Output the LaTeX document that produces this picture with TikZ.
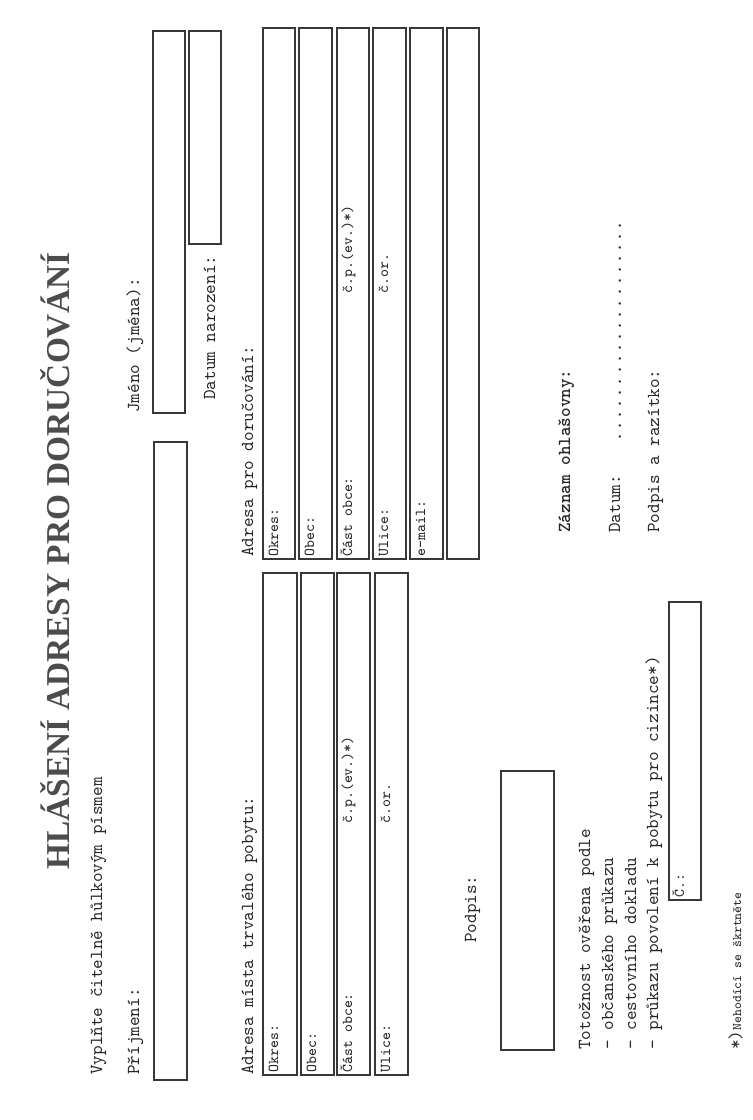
\documentclass[tikz,border=0pt]{standalone}
\usepackage{fontspec}
\setmainfont{Liberation Serif}
\usetikzlibrary{calc}
\usetikzlibrary{fit}

\begin{document}
\begin{tikzpicture}[x=0.02cm, y=-0.02cm,
  field/.style={draw=black!78, line width=0.9pt, inner sep=0pt},
  txt/.style={rotate=90, anchor=base west, inner sep=0pt, text=black!85, font=\ttfamily\fontsize{10.4}{12}\selectfont},
  lbl/.style={rotate=90, anchor=base west, inner sep=0pt, text=black!85, font=\ttfamily\fontsize{8.6}{10}\selectfont}]

\useasboundingbox (0,0) rectangle (752,1120);

\node[rotate=90, anchor=base, inner sep=0pt, text=black!70, font=\bfseries\fontsize{19}{22}\selectfont] (title) at (70,561) {HLÁŠENÍ ADRESY PRO DORUČOVÁNÍ};

% osobni udaje
\node[txt] (hint) at (102,1075) {Vyplňte čitelně hůlkovým písmem};
\node[txt] (prijmeniL) at (139,1075) {Příjmení:};
\node[field, fit={(154,442) (187,1080)}] (prijmeni) {};
\node[txt] (jmenoL) at (139,413) {Jméno (jména):};
\node[field, fit={(153,31) (185,413)}] (jmeno) {};
\node[txt] (narozL) at (215,400) {Datum narození:};
\node[field, fit={(189,31) (221,244)}] (naroz) {};

% trvaly pobyt
\node[txt] (trvalyL) at (253,1075) {Adresa místa trvalého pobytu:};
\foreach \name/\xa/\xb/\lab in {pokres/263/297/Okres:, pobec/301/334/Obec:, pcast/337/370/Část obce:, pulice/375/408/Ulice:}
 {
 \node[field, fit={(\xa,573) (\xb,1075)}] (\name) {};
 \node[lbl] (\name L) at ($(\name.south west)+(16,-3)$) {\lab};
 }
\node[lbl] (pcp) at ($(pcast.west)+(16,0)$ |- 0,697) {č.p.(ev.)*)};
\node[lbl] (por) at ($(pulice.west)+(16,0)$ |- 0,697) {č.or.};

% dorucovani
\node[txt] (dorucL) at (253,557) {Adresa pro doručování:};
\foreach \name/\xa/\xb/\lab in {dokres/263/295/Okres:, dobec/299/332/Obec:, dcast/337/369/Část obce:, dulice/373/406/Ulice:, dmail/410/443/e-mail:, dvolne/447/479/}
 {
 \node[field, fit={(\xa,28) (\xb,559)}] (\name) {};
 \node[lbl] (\name L) at ($(\name.south west)+(16,-3)$) {\lab};
 }
\node[lbl] (dcp) at ($(dcast.west)+(16,0)$ |- 0,142) {č.p.(ev.)*)};
\node[lbl] (dor) at ($(dulice.west)+(16,0)$ |- 0,142) {č.or.};

% podpis
\node[txt] (podpisL) at (476,943) {Podpis:};
\node[field, fit={(501,771) (554,1050)}] (podpis) {};

% totoznost
\node[txt] (tot1) at (590,1050) {Totožnost ověřena podle};
\node[txt] (tot2) at (613,1050) {- občanského průkazu};
\node[txt] (tot3) at (636,1050) {- cestovního dokladu};
\node[txt] (tot4) at (658,1050) {- průkazu povolení k pobytu pro cizince*)};
\node[field, fit={(669,602) (701,900)}] (cislo) {};
\node[lbl] (cisloL) at ($(cislo.south west)+(16,-3)$) {Č.:};
\node[txt] (pozn) at (741,1050) {*)\fontsize{7.4}{9}\selectfont Nehodící se škrtněte};

% ohlasovna
\node[txt, font=\ttfamily\bfseries\fontsize{10.4}{12}\selectfont] (zaznam) at (570,533) {Záznam ohlašovny:};
\node[txt] (datumL) at (620,533) {Datum:};
\node[txt, font=\ttfamily\fontsize{12.3}{14}\selectfont] (tecky) at (621,443) {....................};
\node[txt] (razitko) at (659,533) {Podpis a razítko:};

\end{tikzpicture}
\end{document}
